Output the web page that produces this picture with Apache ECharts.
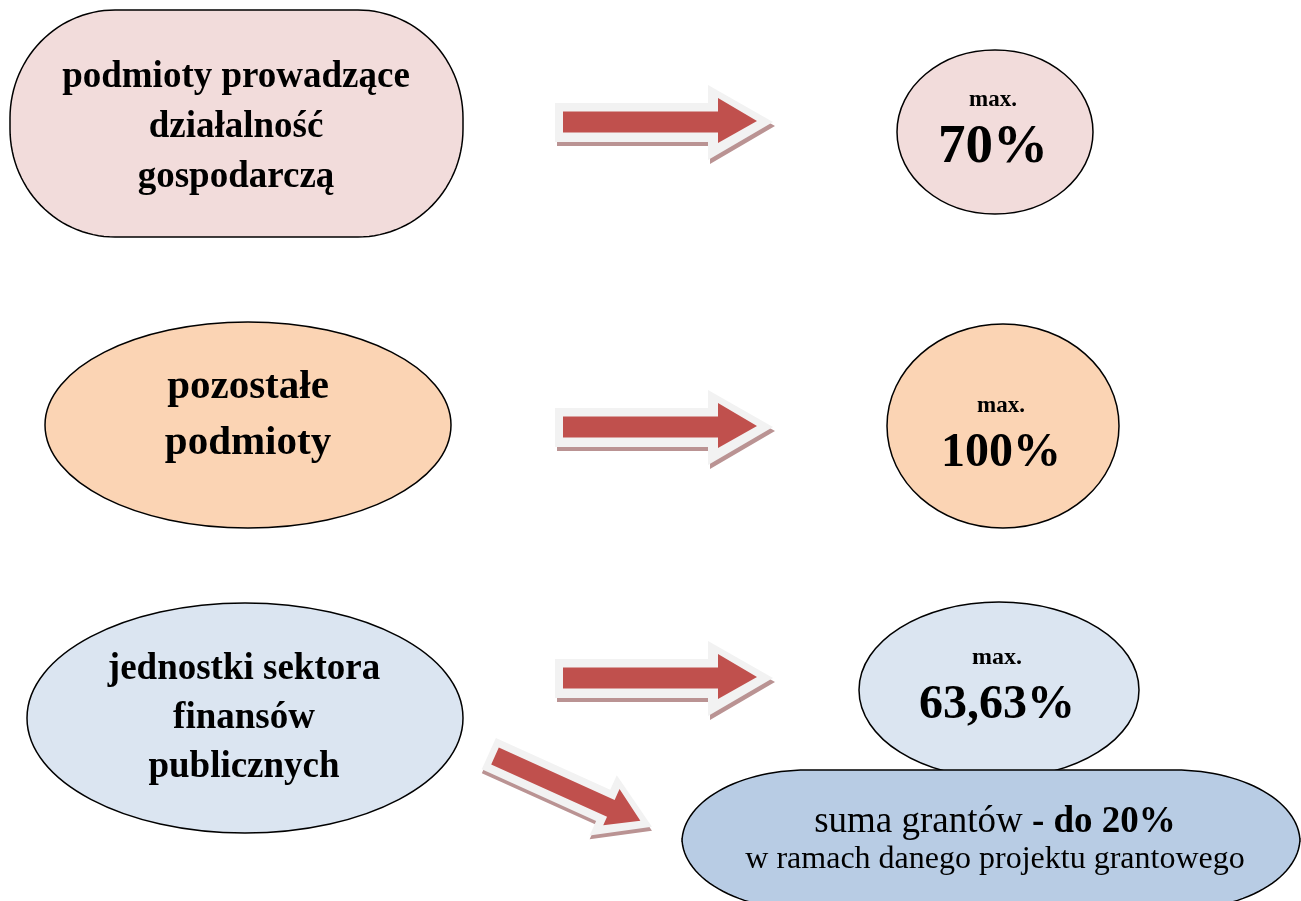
<!DOCTYPE html>
<html>
<head>
<meta charset="utf-8">
<script src="https://cdn.jsdelivr.net/npm/echarts@6/dist/echarts.min.js"></script>
<style>
  html, body { margin: 0; padding: 0; background: #fff; }
  #chart { width: 1301px; height: 901px; }
</style>
</head>
<body>
<div id="chart"></div>
<script>
  // grupy beneficjentów i maksymalny poziom dofinansowania
  var groupLines = [
    ['podmioty prowadzące', 'działalność', 'gospodarczą'],
    ['pozostałe', 'podmioty'],
    ['jednostki sektora', 'finansów', 'publicznych']
  ];
  var maxLabel = 'max.';
  var maxValues = ['70%', '100%', '63,63%'];
  var grantPrefix = 'suma grantów ';
  var grantValue = '- do 20%';
  var grantNote = 'w ramach danego projektu grantowego';

  var serif = '"Liberation Serif", "Times New Roman", serif';
  var fills = ['#F2DCDB', '#FBD4B4', '#DBE5F1'];

  // zaokrąglony prostokąt z eliptycznymi narożnikami
  function roundBox(x, y, w, h, rx, ry) {
    var pts = [];
    var corners = [
      [x + w - rx, y + ry, -Math.PI / 2, 0],
      [x + w - rx, y + h - ry, 0, Math.PI / 2],
      [x + rx, y + h - ry, Math.PI / 2, Math.PI],
      [x + rx, y + ry, Math.PI, Math.PI * 1.5]
    ];
    corners.forEach(function (c) {
      for (var i = 0; i <= 30; i++) {
        var a = c[2] + (c[3] - c[2]) * i / 30;
        pts.push([c[0] + rx * Math.cos(a), c[1] + ry * Math.sin(a)]);
      }
    });
    return pts;
  }

  // strzałka: ogon w (0,0), skierowana w prawo
  var arrowRed = [[0, -10.5], [155, -10.5], [155, -24], [194, -1], [155, 21], [155, 10.5], [0, 10.5]];
  var arrowRim = [[-8, -19], [145, -19], [145, -37], [210, 0], [145, 38], [145, 20], [-8, 20]];

  function arrow(x, y, rot, sx, sy) {
    var base = { x: x, y: y, rotation: rot, scaleX: sx, scaleY: sy };
    return [
      Object.assign({ type: 'polygon', shape: { points: arrowRim.map(function (p) { return [p[0] + 2, p[1] + 4]; }) },
        style: { fill: '#BA9393' } }, base),
      Object.assign({ type: 'polygon', shape: { points: arrowRim }, style: { fill: '#F2F2F2' } }, base),
      Object.assign({ type: 'polygon', shape: { points: arrowRed }, style: { fill: '#C0504D' } }, base)
    ];
  }

  function txt(x, y, s, size, bold) {
    return {
      type: 'text', x: x, y: y,
      style: {
        text: s, fill: '#000', align: 'center', verticalAlign: 'middle',
        font: (bold ? 'bold ' : '') + size + 'px ' + serif
      }
    };
  }

  var els = [];

  // lewa kolumna
  els.push({ type: 'polygon', shape: { points: roundBox(10, 10, 453, 227, 105, 108) },
    style: { fill: fills[0], stroke: '#000', lineWidth: 1.5 } });
  els.push({ type: 'ellipse', shape: { cx: 248, cy: 425, rx: 203, ry: 103 },
    style: { fill: fills[1], stroke: '#000', lineWidth: 1.5 } });
  els.push({ type: 'ellipse', shape: { cx: 245, cy: 718, rx: 218, ry: 115 },
    style: { fill: fills[2], stroke: '#000', lineWidth: 1.5 } });

  var lineX = [236, 248, 244];
  var lineY = [[77, 127, 177], [387, 443], [669, 718, 767]];
  var lineSize = [37, 41, 37];
  groupLines.forEach(function (lines, g) {
    lines.forEach(function (s, i) {
      els.push(txt(lineX[g], lineY[g][i], s, lineSize[g], true));
    });
  });

  // strzałki
  var arrowY = [122, 427, 678];
  arrowY.forEach(function (y) { els = els.concat(arrow(563, y, 0, 1, 1)); });
  els = els.concat(arrow(495, 756, -24.3 * Math.PI / 180, 0.82, 0.88));

  // prawa kolumna
  var circ = [
    { cx: 995, cy: 132, rx: 98, ry: 82 },
    { cx: 1003, cy: 426, rx: 116, ry: 102 },
    { cx: 999, cy: 690, rx: 140, ry: 88 }
  ];
  var maxY = [100, 406, 658];
  var valY = [148, 454, 706];
  var valSize = [55, 48, 48];
  var maxSize = [23, 23, 24];
  circ.forEach(function (c, i) {
    els.push({ type: 'ellipse', shape: c, style: { fill: fills[i], stroke: '#000', lineWidth: 1.5 } });
    els.push(txt(c.cx - 2, maxY[i], maxLabel, maxSize[i], true));
    els.push(txt(c.cx - 2, valY[i], maxValues[i], valSize[i], true));
  });

  // granty
  els.push({ type: 'polygon', shape: { points: roundBox(682, 770, 618, 140, 125, 72) },
    style: { fill: '#B8CCE4', stroke: '#000', lineWidth: 1.5 } });
  els.push({
    type: 'text', x: 995, y: 822,
    style: {
      text: '{a|' + grantPrefix + '}{b|' + grantValue + '}',
      align: 'center', verticalAlign: 'middle',
      rich: {
        a: { font: '37px ' + serif, fill: '#000' },
        b: { font: 'bold 37px ' + serif, fill: '#000' }
      }
    }
  });
  els.push(txt(995, 860, grantNote, 32, false));

  var chart = echarts.init(document.getElementById('chart'), null, { renderer: 'canvas' });
  chart.setOption({
    backgroundColor: '#fff',
    animation: false,
    graphic: { elements: els }
  });
</script>
</body>
</html>
